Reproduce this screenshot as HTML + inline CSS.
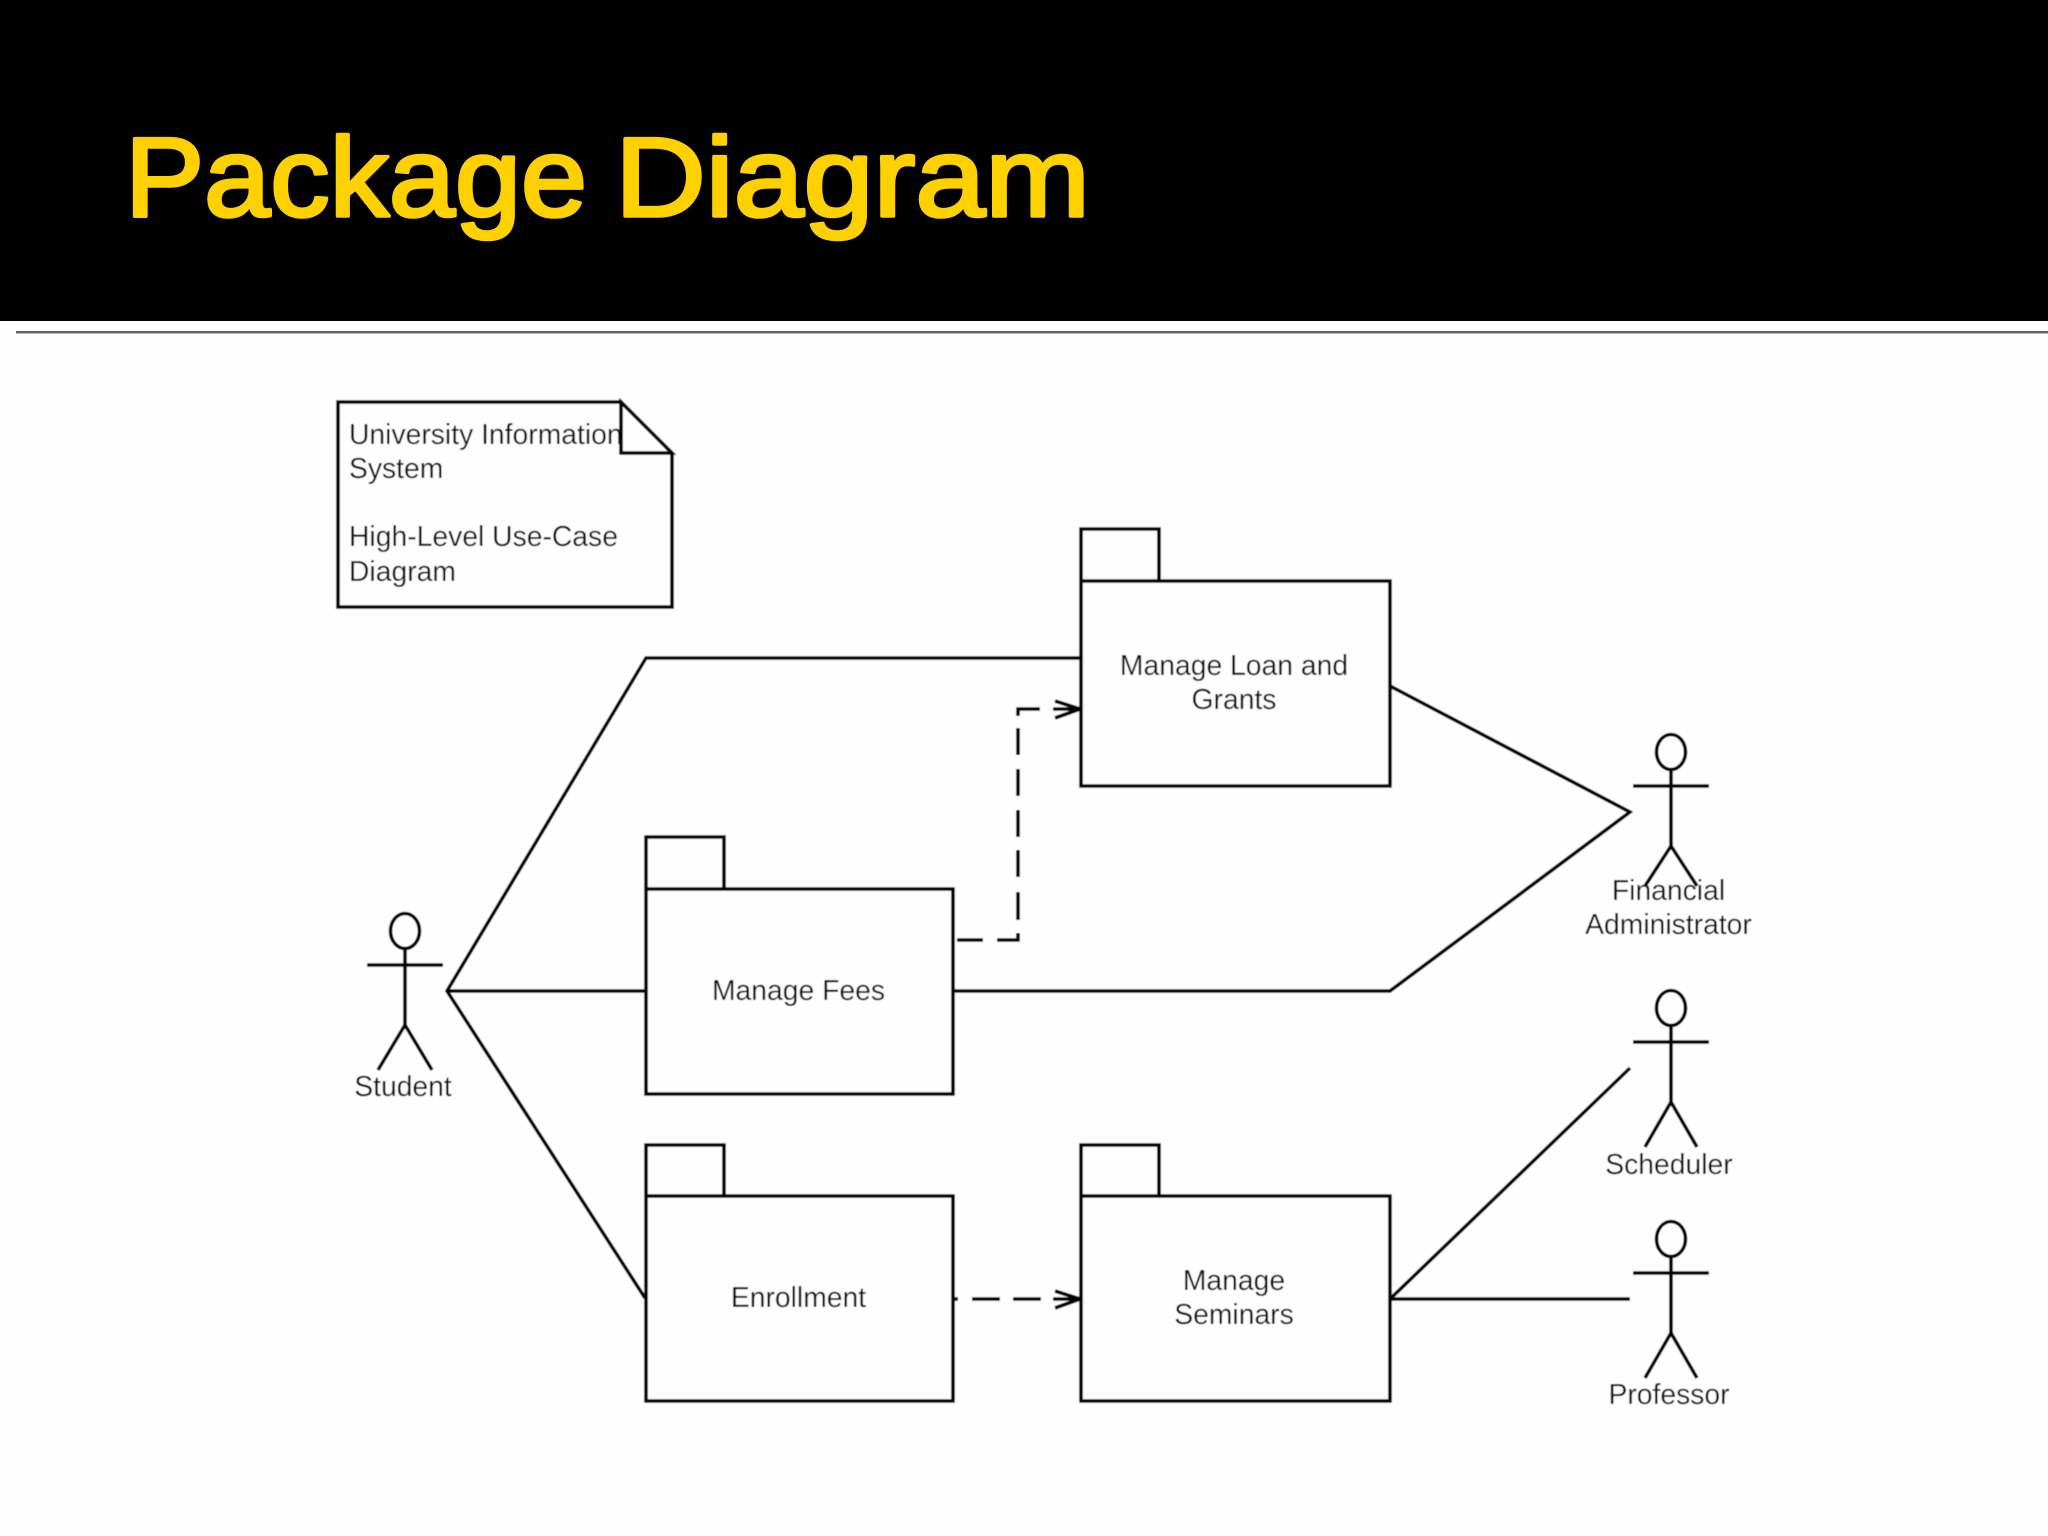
<!DOCTYPE html>
<html><head><meta charset="utf-8"><style>
html,body{margin:0;padding:0;background:#fff;width:2048px;height:1536px;overflow:hidden}
svg{display:block}
text{font-family:"Liberation Sans",sans-serif}
.t{font-size:28.3px;fill:#0c0c0c;text-anchor:middle}
.l{font-size:28.3px;fill:#0c0c0c}
.s{fill:none;stroke:#000;stroke-width:3.6;stroke-linejoin:miter}
.h{font-size:112px;fill:#fdd000;stroke:#fdd000;stroke-width:3.5;stroke-linejoin:round}
</style></head><body>
<svg width="2048" height="1536" viewBox="0 0 2048 1536" xmlns="http://www.w3.org/2000/svg">
<defs><filter id="b" x="0" y="0" width="100%" height="100%" filterUnits="objectBoundingBox"><feGaussianBlur stdDeviation="0.5"/></filter></defs>
<rect width="2048" height="1536" fill="#fefefe"/>
<rect width="2048" height="321" fill="#000"/>
<rect y="321" width="2048" height="9" fill="#fff"/>
<rect x="16" y="331" width="2032" height="2.500" fill="#666"/>
<text class="h" x="125" y="216" textLength="462" lengthAdjust="spacingAndGlyphs">Package</text>
<text class="h" x="615" y="216" textLength="475" lengthAdjust="spacingAndGlyphs">Diagram</text>

<g filter="url(#b)">
<rect x="300" y="380" width="1500" height="1050" fill="#fefefe"/>
<!-- note -->
<text class="l" x="349" y="444">University Information</text>
<text class="l" x="349" y="478">System</text>
<text class="l" x="349" y="546">High-Level Use-Case</text>
<text class="l" x="349" y="581">Diagram</text>
<path class="s" d="M621 402V453H672L621 402Z" style="fill:#fefefe"/>
<path class="s" d="M338 402H621L672 453V607H338Z"/>

<!-- packages -->
<path class="s" d="M1081 581V529H1159V581M1081 581H1390V786H1081Z"/>
<path class="s" d="M646 889V837H724V889M646 889H953V1094H646Z"/>
<path class="s" d="M646 1196V1145H724V1196M646 1196H953V1401H646Z"/>
<path class="s" d="M1081 1196V1145H1159V1196M1081 1196H1390V1401H1081Z"/>

<text class="t" x="1234" y="675">Manage Loan and</text>
<text class="t" x="1234" y="709">Grants</text>
<text class="t" x="798.500" y="1000">Manage Fees</text>
<text class="t" x="798.500" y="1307">Enrollment</text>
<text class="t" x="1234" y="1290">Manage</text>
<text class="t" x="1234" y="1324">Seminars</text>

<!-- associations -->
<path class="s" d="M1081 658H646L447 991L645 1298"/>
<path class="s" d="M447 991H646"/>
<path class="s" d="M1390 686L1630 812L1390 991H953"/>
<path class="s" d="M1390 1299L1630 1068"/>
<path class="s" d="M1390 1299H1630"/>

<!-- dependencies -->
<path class="s" d="M957 940H983M997 940H1018V933M1018 920V892M1018 877V850M1018 837V810M1018 796V769M1018 755V728M1018 716V709H1040"/>
<path class="s" d="M953 1299H958M972 1299H1000M1013 1299H1041"/>
<path class="s" d="M1055 701L1080 709L1055 718M1053 709H1080" style="stroke-linejoin:round"/>
<path class="s" d="M1055 1291L1080 1299L1055 1308M1053 1299H1080" style="stroke-linejoin:round"/>

<!-- actors -->
<g class="s">
<ellipse cx="1671" cy="752" rx="14.500" ry="17.500"/>
<path d="M1671 770V846M1633 786H1709M1645 886L1671 846L1697 886"/>
</g>
<g class="s">
<ellipse cx="1671" cy="1008" rx="14.500" ry="17.500"/>
<path d="M1671 1026V1102M1633 1042H1709M1645 1147L1671 1102L1697 1147"/>
</g>
<g class="s">
<ellipse cx="1671" cy="1239" rx="14.500" ry="17.500"/>
<path d="M1671 1257V1333M1633 1273H1709M1645 1378L1671 1333L1697 1378"/>
</g>
<g class="s">
<ellipse cx="405" cy="931" rx="14.500" ry="17.500"/>
<path d="M405 949V1025M367 965H443M378 1070L405 1025L432 1070"/>
</g>

<text class="t" x="1668.500" y="900">Financial</text>
<text class="t" x="1668.500" y="934">Administrator</text>
<text class="t" x="403" y="1096">Student</text>
<text class="t" x="1669" y="1174">Scheduler</text>
<text class="t" x="1669" y="1404">Professor</text>
</g>
</svg>
</body></html>
